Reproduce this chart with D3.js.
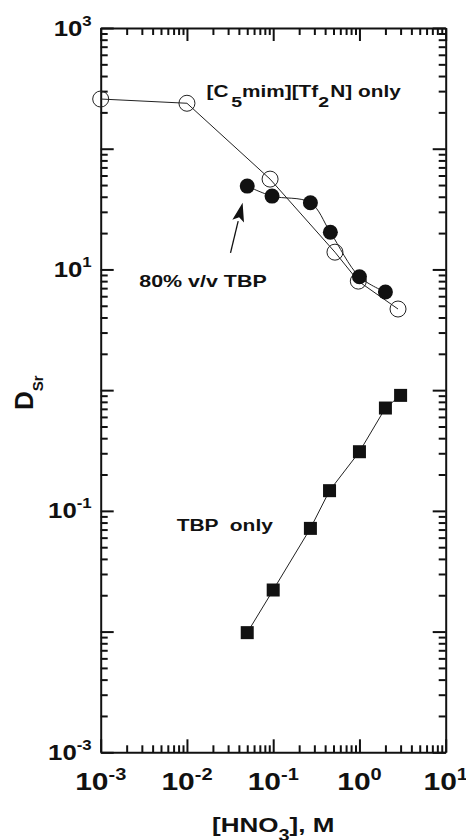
<!DOCTYPE html>
<html>
<head>
<meta charset="utf-8">
<script src="https://cdn.jsdelivr.net/npm/d3@7"></script>
<style>
  body { margin: 0; background: #fff; }
  svg text { font-family: "Liberation Sans", Arial, Helvetica, sans-serif; font-weight: bold; fill: #111; }
</style>
</head>
<body>
<div id="chart"></div>
<script>
// [C5mim][Tf2N] only  (open circles)
var ilX = [0.001, 0.01, 0.092, 0.52, 0.97, 2.8];
var ilY = [258, 238, 56, 13.9, 8.0, 4.7];

// 80% v/v TBP (filled circles)
var tbp80X = [0.05, 0.097, 0.27, 0.46, 1.0, 2.0];
var tbp80Y = [49, 40.5, 35.7, 20.3, 8.7, 6.5];

// TBP only (filled squares)
var tbpX = [0.05, 0.1, 0.27, 0.45, 1.0, 2.0, 3.0];
var tbpY = [0.0098, 0.0221, 0.0716, 0.147, 0.309, 0.711, 0.905];

var xExps = [-3, -2, -1, 0, 1];
var yExps = [-3, -2, -1, 0, 1, 2, 3];
var yLabelExps = [-3, -1, 1, 3];

var W = 466, H = 840;
var margin = { top: 28, right: 20.3, bottom: 87.7, left: 100.7 };
var width = W - margin.left - margin.right;
var height = H - margin.top - margin.bottom;

var svg = d3.select("#chart").append("svg")
    .attr("width", W)
    .attr("height", H);

var g = svg.append("g")
    .attr("transform", "translate(" + margin.left + "," + margin.top + ")");

var x = d3.scaleLog().domain([1e-3, 1e1]).range([0, width]);
var y = d3.scaleLog().domain([1e-3, 1e3]).range([height, 0]);

// major / minor tick positions
function majors(exps) { return exps.map(function(e) { return Math.pow(10, e); }); }
function minors(exps) {
    var out = [];
    for (var i = 0; i < exps.length - 1; i++)
        for (var k = 2; k <= 9; k++) out.push(k * Math.pow(10, exps[i]));
    return out;
}

var axisColor = "#111";
function drawAxis(gen, scale, exps, tr) {
    var a = g.append("g").attr("transform", tr);
    a.call(gen(scale).tickValues(majors(exps)).tickSize(-13).tickSizeOuter(0).tickFormat(""));
    a.selectAll("line").attr("stroke-width", 2).attr("stroke", axisColor);
    var b = g.append("g").attr("transform", tr);
    b.call(gen(scale).tickValues(minors(exps)).tickSize(-7).tickSizeOuter(0).tickFormat(""));
    b.selectAll("line").attr("stroke-width", 2).attr("stroke", axisColor);
    a.select(".domain").attr("stroke-width", 2).attr("stroke", axisColor);
    b.select(".domain").remove();
}

drawAxis(d3.axisBottom, x, xExps, "translate(0," + height + ")");
drawAxis(d3.axisTop, x, xExps, "translate(0,0)");
drawAxis(d3.axisLeft, y, yExps, "translate(0,0)");
drawAxis(d3.axisRight, y, yExps, "translate(" + width + ",0)");

// tick labels 10^n
function powLabel(px, py, exp, size, supSize, supDy, anchor, sx) {
    var t = g.append("text")
        .attr("transform", "translate(" + px + "," + py + ") scale(" + sx + ",1)")
        .attr("text-anchor", anchor)
        .style("font-size", size + "px");
    t.append("tspan").text("10");
    t.append("tspan").attr("dy", supDy).style("font-size", supSize + "px").text(exp);
}

xExps.forEach(function(e) {
    powLabel(x(Math.pow(10, e)), height + 38, e, 24, 16, -10, "middle", 1.25);
});
yLabelExps.forEach(function(e) {
    powLabel(-9, y(Math.pow(10, e)) + 7.5, e, 23, 15, -10, "end", 1.12);
});

// axis titles
var xt = g.append("text")
    .attr("transform", "translate(" + (width / 2) + "," + (height + 79.5) + ") scale(1.24,1)")
    .attr("text-anchor", "middle")
    .style("font-size", "21px");
xt.append("tspan").text("[HNO");
xt.append("tspan").attr("dy", 9).style("font-size", "16px").text("3");
xt.append("tspan").attr("dy", -9).text("], M");

var yt = g.append("text")
    .attr("transform", "translate(" + (33 - margin.left) + "," + (410 - margin.top) + ") rotate(-90)")
    .style("font-size", "26px");
yt.append("tspan").text("D");
yt.append("tspan").attr("dy", 10).style("font-size", "15px").text("Sr");

// series
var line = d3.line().x(function(d) { return x(d[0]); }).y(function(d) { return y(d[1]); });
var curve = d3.line().curve(d3.curveCatmullRom.alpha(0.5))
    .x(function(d) { return x(d[0]); }).y(function(d) { return y(d[1]); });

var ilData = d3.zip(ilX, ilY);
var tbp80Data = d3.zip(tbp80X, tbp80Y);
var tbpData = d3.zip(tbpX, tbpY);

g.append("path").datum(ilData).attr("d", line)
    .attr("fill", "none").attr("stroke", "#222").attr("stroke-width", 1);
g.append("path").datum(tbp80Data).attr("d", curve)
    .attr("fill", "none").attr("stroke", "#222").attr("stroke-width", 1);
g.append("path").datum(tbpData).attr("d", line)
    .attr("fill", "none").attr("stroke", "#222").attr("stroke-width", 1);

g.selectAll(".open").data(ilData).enter().append("circle")
    .attr("class", "open")
    .attr("cx", function(d) { return x(d[0]); })
    .attr("cy", function(d) { return y(d[1]); })
    .attr("r", 8)
    .attr("fill", "none")
    .attr("stroke", "#222")
    .attr("stroke-width", 1);

g.selectAll(".filled").data(tbp80Data).enter().append("circle")
    .attr("class", "filled")
    .attr("cx", function(d) { return x(d[0]); })
    .attr("cy", function(d) { return y(d[1]); })
    .attr("r", 7.5)
    .attr("fill", "#111");

var sq = 13;
g.selectAll(".sq").data(tbpData).enter().append("rect")
    .attr("class", "sq")
    .attr("x", function(d) { return x(d[0]) - sq / 2; })
    .attr("y", function(d) { return y(d[1]) - sq / 2; })
    .attr("width", sq)
    .attr("height", sq)
    .attr("fill", "#111");

// annotations
function label(px, py, parts, size, sx) {
    var t = g.append("text")
        .attr("transform", "translate(" + px + "," + py + ") scale(" + sx + ",1)")
        .style("font-size", size + "px")
        .style("white-space", "pre");
    parts.forEach(function(p) {
        var s = t.append("tspan").text(p.t);
        if (p.dy) s.attr("dy", p.dy);
        if (p.dx) s.attr("dx", p.dx);
        if (p.size) s.style("font-size", p.size + "px");
    });
}

label(x(0.0169), y(270), [
    { t: "[C" }, { t: "5", dy: 10, dx: 2, size: 15 }, { t: "mim][Tf", dy: -10 },
    { t: "2", dy: 10, size: 15 }, { t: "N] only", dy: -10, dx: 1 }
], 16, 1.3);
label(x(0.0028), y(7.2), [{ t: "80% v/v TBP" }], 16, 1.34);
label(x(0.0076), y(0.068), [{ t: "TBP  only" }], 16, 1.31);

// arrow to the 80% TBP curve
var arrowFrom = [0.032, 13.7], arrowTo = [0.0442, 35.7];
var ax0 = x(arrowFrom[0]), ay0 = y(arrowFrom[1]);
var ax1 = x(arrowTo[0]), ay1 = y(arrowTo[1]);
var ang = Math.atan2(ay1 - ay0, ax1 - ax0);
var hl = 19, hw = 6;
var bx = ax1 - hl * Math.cos(ang), by = ay1 - hl * Math.sin(ang);
g.append("line")
    .attr("x1", ax0).attr("y1", ay0).attr("x2", bx).attr("y2", by)
    .attr("stroke", "#111").attr("stroke-width", 1.3);
g.append("path")
    .attr("d", "M" + ax1 + "," + ay1 +
        "L" + (bx + hw * Math.sin(ang)) + "," + (by - hw * Math.cos(ang)) +
        "L" + (bx + 4 * Math.cos(ang)) + "," + (by + 4 * Math.sin(ang)) +
        "L" + (bx - hw * Math.sin(ang)) + "," + (by + hw * Math.cos(ang)) + "Z")
    .attr("fill", "#111");
</script>
</body>
</html>
